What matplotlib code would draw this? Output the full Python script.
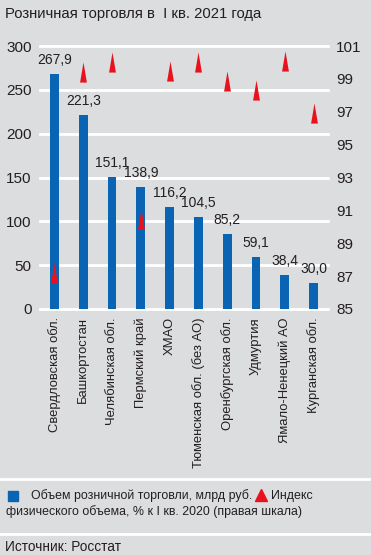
import numpy as np
import matplotlib
matplotlib.use("Agg")
import matplotlib.pyplot as plt
from matplotlib.path import Path

regions = ["Свердловская обл.", "Башкортостан", "Челябинская обл.", "Пермский край",
           "ХМАО", "Тюменская обл. (без АО)", "Оренбургская обл.", "Удмуртия",
           "Ямало-Ненецкий АО", "Курганская обл."]
volume = [267.9, 221.3, 151.1, 138.9, 116.2, 104.5, 85.2, 59.1, 38.4, 30.0]
index_pct = [87.2, 99.4, 100.0, 90.5, 99.5, 100.0, 98.9, 98.3, 100.1, 96.9]

left_ticks = [0, 50, 100, 150, 200, 250, 300]
right_ticks = [85, 87, 89, 91, 93, 95, 97, 99, 101]

BG = "#dcdddf"
BLUE = "#0a64b4"
RED = "#e8121f"
TXT = "#231f20"

plt.rcParams["font.family"] = ["Liberation Sans", "DejaVu Sans"]

W, H = 371, 555
fig = plt.figure(figsize=(W / 100, H / 100), dpi=100, facecolor=BG)

def fx(px):
    return px / W

def fy(py):
    return 1 - py / H

ax = fig.add_axes([fx(40), fy(309), fx(328) - fx(40), fy(46) - fy(309)])
ax.set_facecolor(BG)
x = np.arange(len(regions))
ax.bar(x, volume, width=0.31, color=BLUE, zorder=3)
for xi, v in zip(x, volume):
    ax.annotate(f"{v:.1f}".replace(".", ","), (xi, v), xytext=(0, 5),
                textcoords="offset points", ha="center", va="bottom",
                fontsize=10, color=TXT, zorder=5)

ax.set_xlim(-0.5, len(regions) - 0.5)
ax.set_ylim(0, 300)
ax.set_yticks(left_ticks)
ax.yaxis.grid(True, color="white", linewidth=2, zorder=0)
for gl in ax.get_ygridlines():
    gl.set_clip_on(False)
ax.set_axisbelow(True)
ax.tick_params(axis="y", length=0, pad=6, labelsize=11, labelcolor=TXT)
ax.set_xticks(x)
ax.set_xticklabels(regions, rotation=90, fontsize=9.4, color=TXT, va="top")
ax.tick_params(axis="x", length=0, pad=6)
for s in ax.spines.values():
    s.set_visible(False)

ax2 = ax.twinx()
ax2.set_ylim(85, 101)
ax2.set_yticks(right_ticks)
ax2.tick_params(axis="y", length=0, pad=6, labelsize=11, labelcolor=TXT)
for s in ax2.spines.values():
    s.set_visible(False)
spike = Path([(-0.17, -0.5), (0.17, -0.5), (0, 0.5), (-0.17, -0.5)],
             [Path.MOVETO, Path.LINETO, Path.LINETO, Path.CLOSEPOLY])
ax2.plot(x, index_pct, linestyle="none", marker=spike, markersize=14.5,
         color=RED, markeredgewidth=0, zorder=6)

# title
fig.text(fx(5), fy(14), "Розничная торговля в  I кв. 2021 года", fontsize=10.7,
         color=TXT, va="center", ha="left")

# separators
fig.add_artist(plt.Line2D([0, 1], [fy(479), fy(479)], color="white", linewidth=2))
fig.add_artist(plt.Line2D([0, 1], [fy(534), fy(534)], color="white", linewidth=2))

# legend
renderer = fig.canvas.get_renderer()
fig.add_artist(plt.Line2D([fx(13)], [fy(496)], marker="s", markersize=7.5,
                          color=BLUE, linestyle="none"))
t1 = fig.text(fx(31), fy(496), "Объем розничной торговли, млрд руб.", fontsize=8.9,
              color=TXT, va="center", ha="left")
x_end = t1.get_window_extent(renderer).x1
fig.add_artist(plt.Line2D([(x_end + 9) / W], [fy(495)], marker="^", markersize=9,
                          color=RED, linestyle="none"))
fig.text((x_end + 19) / W, fy(496), "Индекс", fontsize=8.9, color=TXT,
         va="center", ha="left")
fig.text(fx(6), fy(512), "физического объема, % к I кв. 2020 (правая шкала)",
         fontsize=8.9, color=TXT, va="center", ha="left")

fig.text(fx(5), fy(547), "Источник: Росстат", fontsize=9.8, color=TXT,
         va="center", ha="left")

fig.savefig("out.png", dpi=100, facecolor=BG)
